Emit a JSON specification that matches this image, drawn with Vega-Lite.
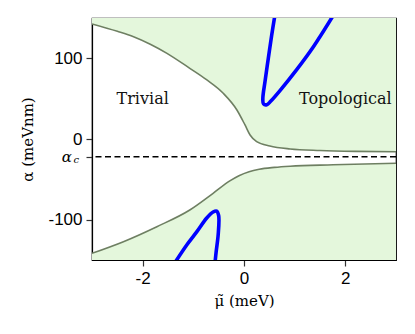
{
  "$schema": "https://vega.github.io/schema/vega-lite/v6.json",
  "width": 304,
  "height": 242,
  "autosize": {"type": "none"},
  "padding": {"left": 92, "top": 18, "right": 19, "bottom": 74},
  "background": "white",
  "config": {
    "view": {"stroke": "black", "strokeWidth": 1.2},
    "axis": {
      "grid": false,
      "domainColor": "black",
      "domainWidth": 1.2,
      "tickColor": "#333333",
      "tickSize": 6,
      "tickWidth": 1.2,
      "labelFont": "Liberation Sans",
      "labelFontSize": 17,
      "labelColor": "black",
      "titleFont": "DejaVu Serif",
      "titleFontSize": 15,
      "titleFontWeight": "normal",
      "titleColor": "black"
    }
  },
  "datasets": {
    "upper": [
      {"x": -3, "y": 142.6}, {"x": -2.5, "y": 133.5}, {"x": -2.18, "y": 126.8}, {"x": -1.85, "y": 117.5},
      {"x": -1.52, "y": 106.2}, {"x": -1.07, "y": 87.6}, {"x": -0.74, "y": 73.5}, {"x": -0.41, "y": 56.7},
      {"x": -0.14, "y": 36}, {"x": 0.02, "y": 17.4}, {"x": 0.12, "y": 5}, {"x": 0.25, "y": -3.3},
      {"x": 0.51, "y": -8.7}, {"x": 0.91, "y": -12.3}, {"x": 1.5, "y": -14.2}, {"x": 2.2, "y": -15.3},
      {"x": 3, "y": -15.8}
    ],
    "lower": [
      {"x": -3, "y": -141.7}, {"x": -2.38, "y": -127.3}, {"x": -1.72, "y": -108.7}, {"x": -1.07, "y": -88},
      {"x": -0.61, "y": -67.3}, {"x": -0.28, "y": -52}, {"x": -0.1, "y": -45.5}, {"x": 0.1, "y": -40.5},
      {"x": 0.3, "y": -37.5}, {"x": 0.6, "y": -35.2}, {"x": 0.91, "y": -33.7}, {"x": 1.76, "y": -32}, {"x": 3, "y": -30}
    ],
    "blueUpper": [
      {"i": 0, "x": 0.606, "y": 152}, {"i": 1, "x": 0.547, "y": 128.9}, {"i": 2, "x": 0.48, "y": 100},
      {"i": 3, "x": 0.414, "y": 71}, {"i": 4, "x": 0.372, "y": 50.5}, {"i": 5, "x": 0.385, "y": 43.5},
      {"i": 6, "x": 0.45, "y": 42.5}, {"i": 7, "x": 0.53, "y": 47}, {"i": 8, "x": 0.71, "y": 60},
      {"i": 9, "x": 1.04, "y": 86}, {"i": 10, "x": 1.37, "y": 114.4}, {"i": 11, "x": 1.75, "y": 152}
    ],
    "blueLower": [
      {"i": 0, "x": -1.35, "y": -152}, {"i": 1, "x": -1.13, "y": -131.4}, {"i": 2, "x": -0.93, "y": -114.9},
      {"i": 3, "x": -0.74, "y": -98.3}, {"i": 4, "x": -0.61, "y": -90.5}, {"i": 5, "x": -0.54, "y": -89.3},
      {"i": 6, "x": -0.5, "y": -95}, {"i": 7, "x": -0.51, "y": -119}, {"i": 8, "x": -0.55, "y": -140}, {"i": 9, "x": -0.57, "y": -152}
    ],
    "labels": [
      {"x": -2, "y": 50, "t": "Trivial"},
      {"x": 2, "y": 50, "t": "Topological"}
    ],
    "crit": [{"y": -22}]
  },
  "layer": [
    {
      "data": {"name": "upper"},
      "mark": {"type": "area", "color": "#e4f7dc", "interpolate": "monotone", "clip": true},
      "encoding": {
        "x": {"field": "x", "type": "quantitative", "scale": {"domain": [-3, 3], "nice": false, "zero": false},
              "axis": {"values": [-2, 0, 2], "labelExpr": "toString(datum.value)", "title": "μ̃ (meV)", "labelPadding": 4, "titlePadding": 7}},
        "y": {"field": "y", "type": "quantitative", "scale": {"domain": [-150, 150], "nice": false, "zero": false},
              "axis": {"values": [-100, -22, 0, 100], "labelExpr": "datum.value == -22 ? '' : toString(datum.value)", "title": "α (meVnm)", "labelPadding": 4, "titlePadding": 12}},
        "y2": {"datum": 150}
      }
    },
    {
      "data": {"name": "lower"},
      "mark": {"type": "area", "color": "#e4f7dc", "interpolate": "monotone", "clip": true},
      "encoding": {
        "x": {"field": "x", "type": "quantitative"},
        "y": {"field": "y", "type": "quantitative"},
        "y2": {"datum": -150}
      }
    },
    {
      "data": {"name": "upper"},
      "mark": {"type": "line", "color": "#6e7f62", "strokeWidth": 1.6, "interpolate": "monotone", "clip": true},
      "encoding": {"x": {"field": "x", "type": "quantitative"}, "y": {"field": "y", "type": "quantitative"}}
    },
    {
      "data": {"name": "lower"},
      "mark": {"type": "line", "color": "#6e7f62", "strokeWidth": 1.6, "interpolate": "monotone", "clip": true},
      "encoding": {"x": {"field": "x", "type": "quantitative"}, "y": {"field": "y", "type": "quantitative"}}
    },
    {
      "data": {"name": "blueUpper"},
      "mark": {"type": "line", "color": "#0000ff", "strokeWidth": 3.6, "interpolate": "catmull-rom", "clip": true},
      "encoding": {"x": {"field": "x", "type": "quantitative"}, "y": {"field": "y", "type": "quantitative"}, "order": {"field": "i"}}
    },
    {
      "data": {"name": "blueLower"},
      "mark": {"type": "line", "color": "#0000ff", "strokeWidth": 3.6, "interpolate": "catmull-rom", "clip": true},
      "encoding": {"x": {"field": "x", "type": "quantitative"}, "y": {"field": "y", "type": "quantitative"}, "order": {"field": "i"}}
    },
    {
      "data": {"name": "crit"},
      "mark": {"type": "rule", "color": "black", "strokeWidth": 1.5, "strokeDash": [6, 3.5]},
      "encoding": {"y": {"field": "y", "type": "quantitative"}}
    },
    {
      "data": {"name": "labels"},
      "mark": {"type": "text", "font": "DejaVu Serif", "fontSize": 16, "color": "#111111"},
      "encoding": {"x": {"field": "x", "type": "quantitative"}, "y": {"field": "y", "type": "quantitative"}, "text": {"field": "t"}}
    },
    {
      "data": {"name": "crit"},
      "mark": {"type": "text", "text": "α", "font": "DejaVu Serif", "fontStyle": "italic", "fontSize": 15, "align": "right", "baseline": "middle", "dx": -20, "dy": 0, "clip": false},
      "encoding": {"x": {"datum": -3}, "y": {"field": "y", "type": "quantitative"}}
    },
    {
      "data": {"name": "crit"},
      "mark": {"type": "text", "text": "c", "font": "DejaVu Serif", "fontStyle": "italic", "fontSize": 10, "align": "right", "baseline": "middle", "dx": -13, "dy": 3, "clip": false},
      "encoding": {"x": {"datum": -3}, "y": {"field": "y", "type": "quantitative"}}
    }
  ]
}
